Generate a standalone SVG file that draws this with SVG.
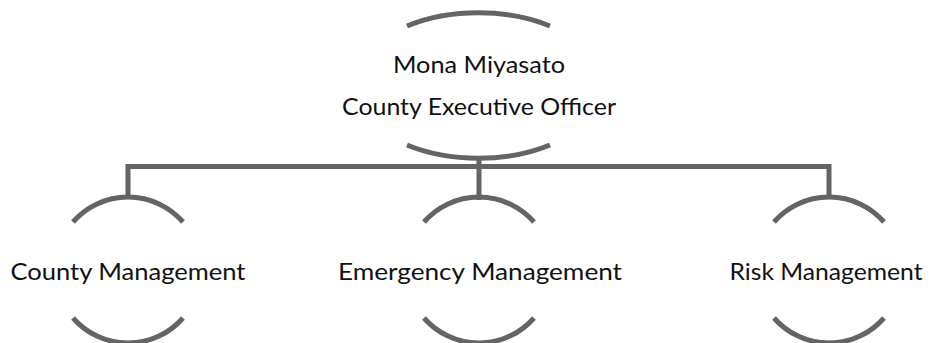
<svg xmlns="http://www.w3.org/2000/svg" width="936" height="343" viewBox="0 0 936 343">
<style>
.arc{fill:none;stroke:#646464;stroke-width:5}
.conn{fill:none;stroke:#646464;stroke-width:5}
.t{font-family:Lato,"Open Sans","DejaVu Sans",sans-serif;font-size:23px;fill:#111;text-anchor:middle}
</style>
<rect width="936" height="343" fill="#fff"/>
<g id="connectors">
<path class="conn" d="M479,158 V200 M128,166.5 H829 M128,164 V198 M829,164 V198"/>
</g>
<g id="ceo">
<path class="arc" d="M407,26 A124,72.5 0 0 1 550,26"/>
<path class="arc" d="M407,145 A124,72.5 0 0 0 550,145"/>
<text class="t" x="479" y="73" textLength="172" lengthAdjust="spacingAndGlyphs">Mona Miyasato</text>
<text class="t" x="479" y="115" textLength="274" lengthAdjust="spacingAndGlyphs">County Executive Officer</text>
</g>
<g id="county">
<path class="arc" d="M73,222 A73,73 0 0 1 183,222"/>
<path class="arc" d="M73,318 A73,73 0 0 0 183,318"/>
<text class="t" x="128" y="280" textLength="235" lengthAdjust="spacingAndGlyphs">County Management</text>
</g>
<g id="emergency">
<path class="arc" d="M424,222 A73,73 0 0 1 534,222"/>
<path class="arc" d="M424,318 A73,73 0 0 0 534,318"/>
<text class="t" x="480" y="280" textLength="284" lengthAdjust="spacingAndGlyphs">Emergency Management</text>
</g>
<g id="risk">
<path class="arc" d="M774,222 A73,73 0 0 1 884,222"/>
<path class="arc" d="M774,318 A73,73 0 0 0 884,318"/>
<text class="t" x="826" y="280" textLength="193" lengthAdjust="spacingAndGlyphs">Risk Management</text>
</g>
</svg>
